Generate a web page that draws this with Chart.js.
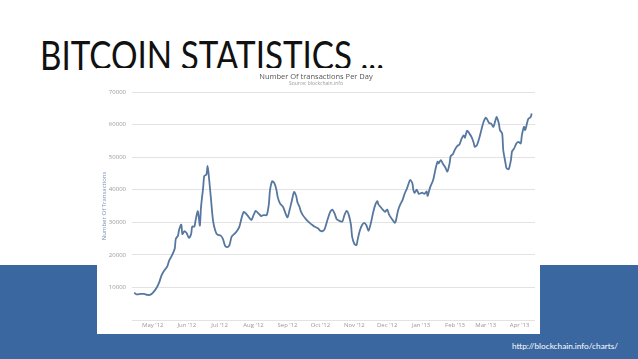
<!DOCTYPE html>
<html>
<head>
<meta charset="utf-8">
<script src="https://cdn.jsdelivr.net/npm/chart.js@4.4.1/dist/chart.umd.min.js"></script>
<style>
  html,body{margin:0;padding:0;background:#fff;}
  #slide{position:relative;width:638px;height:359px;overflow:hidden;background:#fff;}
  #band{position:absolute;left:0;top:265px;width:638px;height:94px;background:#3a67a0;}
  #title{position:absolute;left:40px;top:35px;font-family:Lato,"Open Sans",sans-serif;font-size:40px;line-height:40px;color:#111;white-space:nowrap;transform-origin:0 0;}
  #box{position:absolute;left:97px;top:68px;width:443px;height:266px;background:#fff;}
  #url{position:absolute;left:512px;top:342px;font-family:Lato,"Open Sans",sans-serif;font-size:8px;line-height:8px;color:#fff;white-space:nowrap;transform-origin:0 0;}
</style>
</head>
<body>
<div id="slide">
  <div id="band"></div>
  <div id="title">BITCOIN STATISTICS ...</div>
  <div id="box"><canvas id="c" width="443" height="266"></canvas></div>
  <div id="url">http://blockchain.info/charts/</div>
</div>
<script>
// Day offsets counted from 2012-04-14
const days = [0,2,6,9,12,15,18,21,23,25,27,30,32,34,37,38,40,41,43,44,46,48,50,52,53,55,56,58,59,60,61,63,64,66,67,68,70,72,74,76,79,81,83,85,87,89,92,94,96,98,100,102,104,107,109,111,113,116,118,121,123,124,126,128,130,131,133,136,138,140,142,144,146,148,149,151,152,154,157,159,161,163,165,168,170,172,174,176,179,181,183,185,187,190,192,194,196,198,199,201,203,204,206,208,210,212,214,216,218,220,222,223,225,227,229,231,233,236,238,239,241,243,245,247,249,250,252,254,255,256,258,260,263,265,267,268,270,273,275,277,278,280,282,284,286,288,289,291,293,295,297,299,301,302,304,306,308,310,311,313,315,317,319,321,322,324,326,328,330,331,333,334,336,337,339,340,342,344,345,347,349,351,353,354,356,357,359,360,362,363];
const txPerDay = [8400,7900,8000,8000,7700,7800,8700,10200,11700,13700,15000,16300,18300,19500,21900,24900,25900,27700,29300,26400,27300,26600,25200,26400,28700,28700,30500,33400,31500,29000,34600,40700,44200,44700,47300,44700,37600,30500,27500,26200,25900,24900,22800,22400,23000,25600,26600,27400,28600,31200,33200,32700,31900,30700,32200,33500,32900,31900,32200,32200,35700,39800,42600,42000,39800,37800,35900,34700,32900,31500,33900,36700,39300,38000,36200,34700,33500,32200,30900,30200,29600,29100,28600,28100,27400,27300,28000,30200,33200,33900,32700,30900,30500,30200,32200,33500,32200,29100,25600,23400,23000,24600,27400,29100,29800,29100,27400,29600,32700,35200,36500,35500,34700,33900,33200,33900,32200,30700,29800,30500,33700,35500,36800,38800,40300,41300,43000,42000,39800,39000,40000,38700,39100,38700,39500,38100,40500,43000,46100,48600,48100,49100,47900,46900,45600,48100,50300,50900,52400,53400,53900,55700,56700,56000,58100,57300,56200,54400,53200,53700,55700,58300,60800,62100,61800,60500,60300,59300,61500,62300,60300,58300,57300,52200,48300,46600,46300,49100,51700,52700,54200,54700,54200,56700,59300,58300,60800,61800,62300,63400];
const monthTickDays = [17,48,78,109,140,170,201,231,262,293,321,352];
const monthTickLabels = ["May '12","Jun '12","Jul '12","Aug '12","Sep '12","Oct '12","Nov '12","Dec '12","Jan '13","Feb '13","Mar '13","Apr '13"];
const yTickValues = [0,10000,20000,30000,40000,50000,60000,70000];

function fitWidth(id, w){
  const el = document.getElementById(id);
  const cur = el.getBoundingClientRect().width;
  if (cur > 0) el.style.transform = 'scaleX(' + (w/cur) + ')';
}
fitWidth('title', 344);
fitWidth('url', 106);

const points = days.map((d,i)=>({x:d, y:txPerDay[i]}));
const FONT = '"Open Sans", sans-serif';

new Chart(document.getElementById('c'), {
  type: 'line',
  data: { datasets: [{
    data: points,
    borderColor: '#56779f',
    borderWidth: 1.8,
    pointRadius: 0,
    tension: 0.25,
    fill: false
  }]},
  options: {
    responsive: false,
    animation: false,
    layout: { padding: { left: 0, right: 5, top: 1, bottom: 6 } },
    plugins: {
      legend: { display: false },
      tooltip: { enabled: false },
      title: { display: true, text: 'Number Of transactions Per Day', color: '#555',
        font: { family: FONT, size: 7.5, weight: 'normal' }, padding: { top: 3, bottom: 0 } },
      subtitle: { display: true, text: 'Source: blockchain.info', color: '#999',
        font: { family: FONT, size: 5 }, padding: { top: 0, bottom: 5 } }
    },
    scales: {
      x: {
        type: 'linear', min: -2, max: 366,
        grid: { display: false, drawTicks: false },
        border: { display: false },
        afterBuildTicks: (s) => { s.ticks = monthTickDays.map(v => ({ value: v })); },
        afterFit: (s) => { s.height = 8; },
        ticks: { autoSkip: false, maxRotation: 0, padding: 2, color: '#999',
          font: { family: FONT, size: 6 },
          callback: (v, i) => monthTickLabels[i] }
      },
      y: {
        min: 0, max: 70000,
        grid: { color: '#e3e3e3', lineWidth: 1, drawTicks: false },
        border: { display: false },
        afterBuildTicks: (s) => { s.ticks = yTickValues.map(v => ({ value: v })); },
        afterFit: (s) => { s.width = 35; },
        ticks: { padding: 6, color: '#999', font: { family: FONT, size: 6 },
          callback: (v) => v === 0 ? '' : String(v) },
        title: { display: true, text: 'Number Of Transactions', color: '#7d95b8',
          font: { family: FONT, size: 6 }, padding: { top: 3.5, bottom: 0 } }
      }
    }
  }
});
</script>
</body>
</html>
